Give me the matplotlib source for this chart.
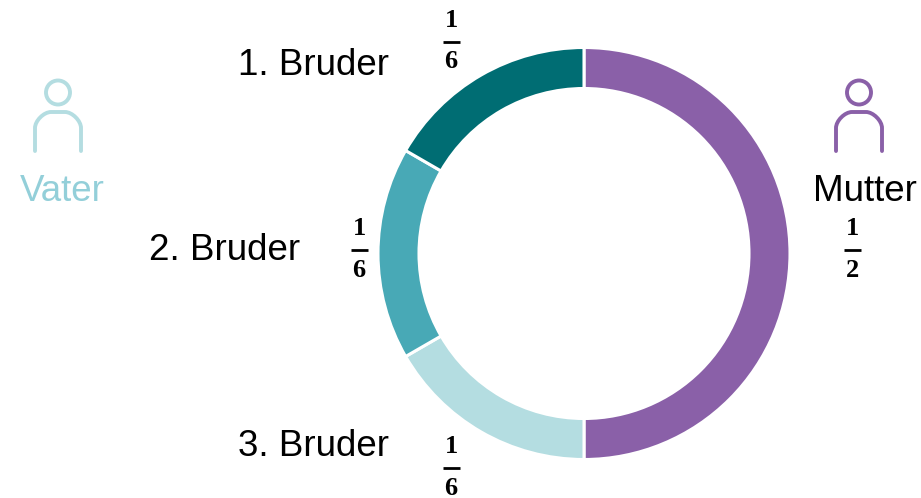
#!/usr/bin/env python3
"""Erbteil-Ring: Mutter 1/2, drei Brueder je 1/6."""

import matplotlib
matplotlib.use('Agg')
import matplotlib.pyplot as plt
from matplotlib.patches import Circle, PathPatch
from matplotlib.path import Path

W, H = 921, 498

plt.rcParams['font.family'] = ['Liberation Sans', 'DejaVu Sans']

# shares, clockwise from 12 o'clock
shares = [1/2, 1/6, 1/6, 1/6]
colors = ['#8A60A8', '#B4DDE1', '#48A9B6', '#006D73']

names = ['1. Bruder', '2. Bruder', '3. Bruder']
name_pos = [(313, 65), (224.5, 250), (313, 446)]

# fractions: numerator, denominator, x, y of the bar (pixels from top)
frac_num = ['1', '1', '1', '1']
frac_den = ['6', '6', '6', '2']
frac_pos = [(451, 41.5), (359, 250), (451, 468), (852, 250)]


def py(y):
    return H - y


def person(ax, cx, color):
    # head
    ax.add_patch(Circle((cx, py(92.5)), 12, fill=False, ec=color, lw=2.8))
    # shoulders
    l, r, top, bot, c = cx - 23, cx + 23, py(112), py(151), 16
    k = c * 0.45
    verts = [(l, bot), (l, top - c),
             (l, top - c + k), (l + c - k, top), (l + c, top),
             (r - c, top),
             (r - c + k, top), (r, top - c + k), (r, top - c),
             (r, bot)]
    codes = [Path.MOVETO, Path.LINETO,
             Path.CURVE4, Path.CURVE4, Path.CURVE4,
             Path.LINETO,
             Path.CURVE4, Path.CURVE4, Path.CURVE4,
             Path.LINETO]
    ax.add_patch(PathPatch(Path(verts, codes), fill=False, ec=color, lw=2.8,
                           capstyle='round', joinstyle='round'))


fig = plt.figure(figsize=(W / 100, H / 100), dpi=100)
ax = fig.add_axes([0, 0, 1, 1])

ax.pie(shares, colors=colors, startangle=90, counterclock=False,
       center=(584, py(253.5)), radius=206,
       wedgeprops=dict(width=41, edgecolor='white', linewidth=2.2))
ax.set_xlim(0, W)
ax.set_ylim(0, H)
ax.set_aspect('equal')
ax.axis('off')

for name, (x, y) in zip(names, name_pos):
    ax.text(x, py(y), name, ha='center', va='center', fontsize=26.5, color='black')

for num, den, (x, y) in zip(frac_num, frac_den, frac_pos):
    ax.plot([x - 8.5, x + 8.5], [py(y), py(y)], color='black', lw=2,
            solid_capstyle='butt')
    ax.text(x, py(y - 21.5), num, ha='center', va='center', fontsize=19,
            fontweight='bold', family='Liberation Serif', color='black')
    ax.text(x, py(y + 20), den, ha='center', va='center', fontsize=19,
            fontweight='bold', family='Liberation Serif', color='black')

person(ax, 58, '#B4DDE1')
ax.text(62.5, py(191), 'Vater', ha='center', va='center', fontsize=26.5, color='#93CFD9')

person(ax, 859, '#8A60A8')
ax.text(864.5, py(191), 'Mutter', ha='center', va='center', fontsize=26.5, color='black')

fig.savefig('out.png', dpi=100)
plt.close()
